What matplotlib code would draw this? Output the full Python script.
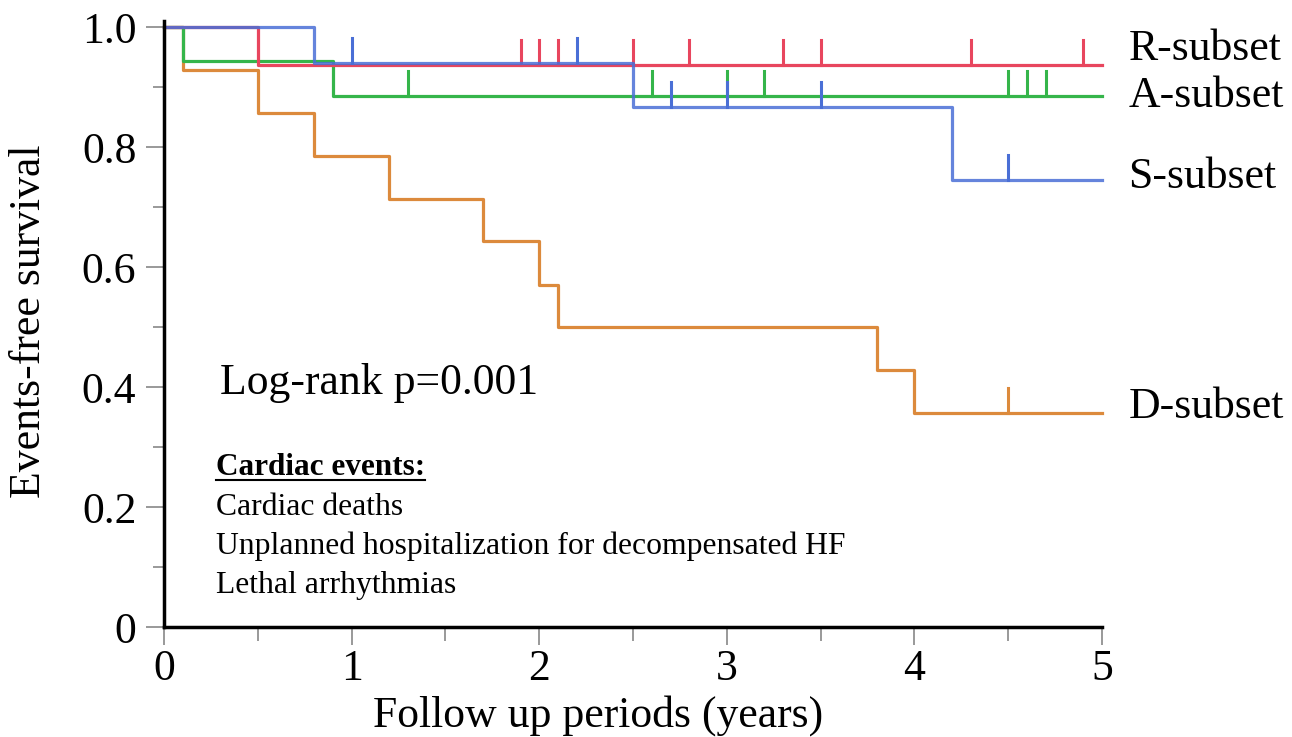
import matplotlib
matplotlib.use("Agg")
import matplotlib.pyplot as plt
from matplotlib.lines import Line2D
from matplotlib.ticker import MultipleLocator, FixedLocator

# Kaplan-Meier step data (time, survival)
r_times = [0, 0.5, 5.0]
r_surv = [1.0, 0.9375, 0.9375]
r_censor = [1.9, 2.0, 2.1, 2.5, 2.8, 3.3, 3.5, 4.3, 4.9]

a_times = [0, 0.1, 0.9, 5.0]
a_surv = [1.0, 0.944, 0.885, 0.885]
a_censor = [1.3, 2.6, 3.0, 3.2, 4.5, 4.6, 4.7]

s_times = [0, 0.8, 2.5, 4.2, 5.0]
s_surv = [1.0, 0.94, 0.867, 0.745, 0.745]
s_censor = [1.0, 2.2, 2.7, 3.0, 3.5, 4.5]

d_times = [0, 0.1, 0.5, 0.8, 1.2, 1.7, 2.0, 2.1, 3.8, 4.0, 5.0]
d_surv = [1.0, 0.929, 0.857, 0.786, 0.714, 0.643, 0.571, 0.5, 0.429, 0.357, 0.357]
d_censor = [4.5]

events = ["Cardiac deaths",
          "Unplanned hospitalization for decompensated HF",
          "Lethal arrhythmias"]

plt.rcParams['font.family'] = ['Liberation Serif', 'DejaVu Serif']
BIG = 31.5

fig = plt.figure(figsize=(12.92, 7.37), dpi=100)
ax = fig.add_axes([0.127, 0.149, 0.726, 0.814])

def surv_at(times, surv, t):
    val = surv[0]
    for ti, si in zip(times, surv):
        if ti <= t:
            val = si
    return val

groups = [
    (d_times, d_surv, d_censor, '#dc8a3c', 'D-subset', 0.367),
    (a_times, a_surv, a_censor, '#35b54a', 'A-subset', 0.885),
    (r_times, r_surv, r_censor, '#e8465e', 'R-subset', 0.963),
    (s_times, s_surv, s_censor, '#4a6fd6', 'S-subset', 0.75),
]

for times, surv, cens, col, name, ly in groups:
    ax.step(times, surv, where='post', color=col, lw=2.3, clip_on=False,
            alpha=0.85 if name == 'S-subset' else 1.0)
    for c in cens:
        y0 = surv_at(times, surv, c)
        ax.plot([c, c], [y0, y0 + 0.042], color=col, lw=2.2, clip_on=False)
    ax.text(5.14, ly, name, fontsize=BIG, va='center', ha='left', clip_on=False)

ax.set_xlim(0, 5)
ax.set_ylim(0, 1.0)

ax.spines['top'].set_visible(False)
ax.spines['right'].set_visible(False)
ax.spines['left'].set_linewidth(2.5)
ax.spines['bottom'].set_linewidth(2.5)
ax.spines['left'].set_bounds(0, 1.01)

ax.xaxis.set_major_locator(MultipleLocator(1))
ax.xaxis.set_minor_locator(MultipleLocator(0.5))
ax.yaxis.set_major_locator(FixedLocator([0, 0.2, 0.4, 0.6, 0.8, 1.0]))
ax.yaxis.set_minor_locator(MultipleLocator(0.1))
ax.set_yticklabels(['0', '0.2', '0.4', '0.6', '0.8', '1.0'])

ax.tick_params(axis='both', which='both', direction='out', color='#999999', width=1.4)
ax.tick_params(axis='x', which='major', length=13, labelsize=BIG, pad=3)
ax.tick_params(axis='x', which='minor', length=10)
ax.tick_params(axis='y', which='major', length=13, labelsize=BIG, pad=7)
ax.tick_params(axis='y', which='minor', length=8)

ax.set_xlabel('Follow up periods (years)', fontsize=BIG)
ax.xaxis.set_label_coords(0.463, -0.113)
ax.set_ylabel('Events-free survival', fontsize=BIG)
ax.yaxis.set_label_coords(-0.123, 0.51)

ax.text(0.3, 0.407, 'Log-rank p=0.001', fontsize=BIG, va='center', ha='left')

head = ax.text(0.275, 0.267, 'Cardiac events:', fontsize=22.5, fontweight='bold',
               va='center', ha='left')
for i, ev in enumerate(events):
    ax.text(0.275, 0.2 - i * 0.065, ev, fontsize=22.8, va='center', ha='left')

# underline the heading
fig.canvas.draw()
bb = head.get_window_extent()
W, H = fig.get_size_inches() * fig.dpi
fig.add_artist(Line2D([bb.x0 / W, bb.x1 / W], [(bb.y0 + 2) / H, (bb.y0 + 2) / H],
                      color='black', lw=1.5))

fig.savefig('out.png', dpi=100)
